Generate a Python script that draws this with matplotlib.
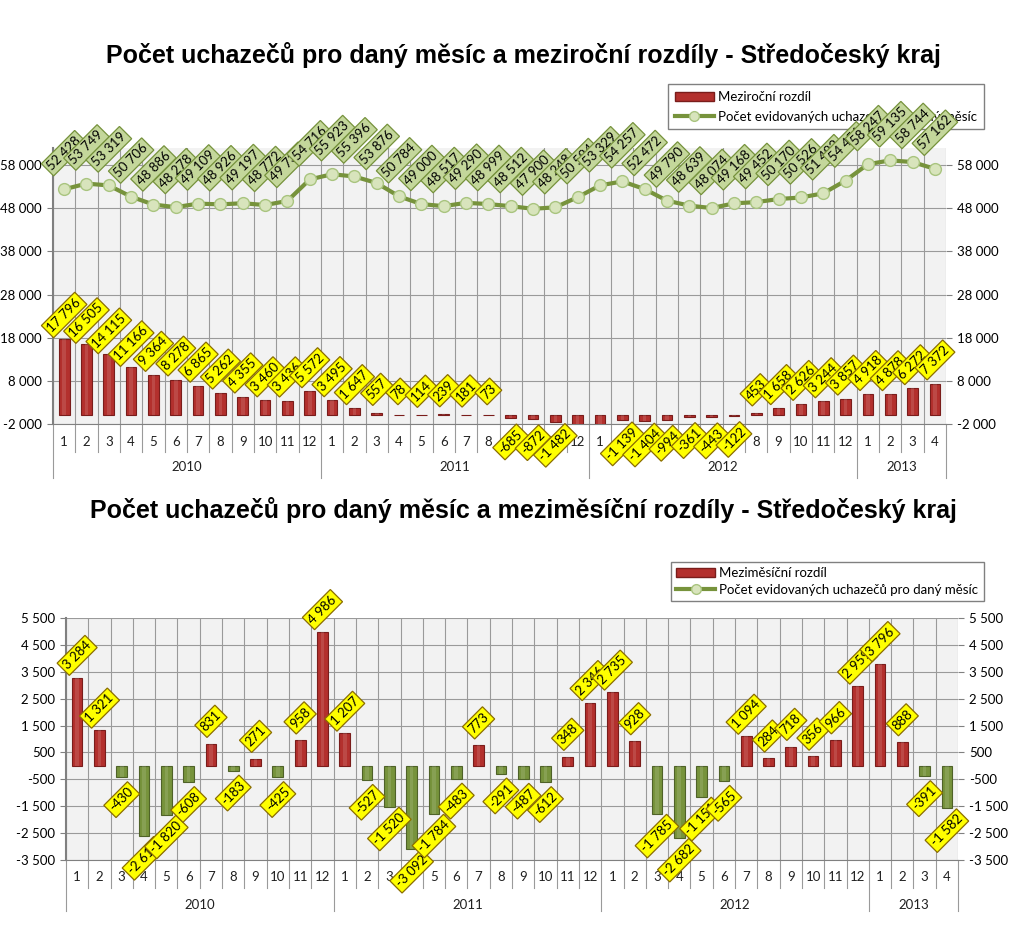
import numpy as np
import matplotlib.pyplot as plt
import matplotlib.transforms as mtransforms
from matplotlib.patches import Patch
from matplotlib.lines import Line2D

plt.rcParams['font.family'] = ['Lato', 'DejaVu Sans']

# Data (Jan 2010 - Apr 2013)
months = list(range(1, 13)) * 3 + [1, 2, 3, 4]
years = ["2010", "2011", "2012", "2013"]
year_lengths = [12, 12, 12, 4]

pocet = [52428, 53749, 53319, 50706, 48886, 48278, 49109, 48926, 49197, 48772, 49730, 54716,
         55923, 55396, 53876, 50784, 49000, 48517, 49290, 48999, 48512, 47900, 48248, 50594,
         53329, 54257, 52472, 49790, 48639, 48074, 49168, 49452, 50170, 50526, 51492, 54451,
         58247, 59135, 58744, 57162]
mezirocni = [17796, 16505, 14115, 11166, 9364, 8278, 6865, 5262, 4355, 3460, 3436, 5572,
             3495, 1647, 557, 78, 114, 239, 181, 73, -685, -872, -1482, -4122,
             -2594, -1139, -1404, -994, -361, -443, -122, 453, 1658, 2626, 3244, 3857,
             4918, 4878, 6272, 7372]
mezimesicni = [3284, 1321, -430, -2613, -1820, -608, 831, -183, 271, -425, 958, 4986,
               1207, -527, -1520, -3092, -1784, -483, 773, -291, -487, -612, 348, 2346,
               2735, 928, -1785, -2682, -1151, -565, 1094, 284, 718, 356, 966, 2959,
               3796, 888, -391, -1582]

top_ticks = [-2000, 8000, 18000, 28000, 38000, 48000, 58000]
bottom_ticks = [-3500, -2500, -1500, -500, 500, 1500, 2500, 3500, 4500, 5500]

RED = "#b3302d"
RED_EDGE = "#7a1d1b"
GREEN = "#77933c"
GREEN_EDGE = "#4f6228"
LINE = "#77933c"
YELLOW_BOX = dict(boxstyle="square,pad=0.2", fc="#ffff00", ec="#8a6d00", lw=0.9)
GREEN_BOX = dict(boxstyle="square,pad=0.2", fc="#c4d79b", ec="#76923c", lw=0.9)


def fmt(v):
    return f"{v:,}".replace(",", " ")


def style_axes(ax, ticks, ylim, month_y, year_y, sep_m, sep_y):
    n = len(months)
    ax.set_facecolor("#f2f2f2")
    ax.set_xlim(-0.5, n - 0.5)
    ax.set_ylim(*ylim)
    ax.set_yticks(ticks)
    ax.set_yticklabels([fmt(t) for t in ticks])
    ax.tick_params(axis="y", labelsize=9.5, labelright=True, right=True,
                   length=4, color="#808080", pad=4)
    ax.set_xticks(range(n))
    ax.set_xticklabels([])
    ax.tick_params(axis="x", length=0)
    ax.set_xticks(np.arange(-0.5, n, 1), minor=True)
    ax.tick_params(axis="x", which="minor", length=0)
    ax.grid(True, which="minor", axis="x", color="#9a9a9a", lw=0.8)
    ax.grid(True, which="major", axis="y", color="#9a9a9a", lw=0.8)
    ax.set_axisbelow(True)
    for s in ["top", "right"]:
        ax.spines[s].set_visible(False)
    ax.spines["left"].set_color("#808080")
    ax.spines["bottom"].set_color("#808080")
    ax.spines["left"].set_linewidth(1.5)

    trans = mtransforms.blended_transform_factory(ax.transData, ax.transAxes)
    for i, m in enumerate(months):
        ax.text(i, month_y, str(m), transform=trans, ha="center", va="center",
                fontsize=9.5, color="#202020")
    year_bounds = np.cumsum([0] + year_lengths) - 0.5
    for b in np.arange(-0.5, n, 1):
        length = sep_y if b in year_bounds else sep_m
        ax.plot([b, b], [0, length], transform=trans, color="#9a9a9a",
                lw=0.8, clip_on=False)
    for k, y in enumerate(years):
        center = (year_bounds[k] + year_bounds[k + 1]) / 2
        ax.text(center, year_y, y, transform=trans, ha="center", va="center",
                fontsize=9.5, color="#202020")


def draw_bars(ax, values, ymin, off, two_colors):
    x = np.arange(len(values))
    vals = np.array(values)
    colors = [RED if (v >= 0 or not two_colors) else GREEN for v in vals]
    edges = [RED_EDGE if (v >= 0 or not two_colors) else GREEN_EDGE for v in vals]
    ax.bar(x, vals, width=0.48, color=colors, edgecolor=edges, lw=0.8, zorder=3)
    # highlight stripe for a rounded look
    ax.bar(x, vals, width=0.16, color="white", alpha=0.12, lw=0, zorder=4)
    for i, v in enumerate(vals):
        if v < ymin:
            continue
        dy = off if v >= 0 else -off
        ax.annotate(fmt(int(v)), xy=(i, v), xytext=(0, dy), textcoords="offset points",
                    rotation=45, rotation_mode="anchor", ha="center", va="center",
                    fontsize=9.5, bbox=YELLOW_BOX, zorder=6, annotation_clip=False)


fig = plt.figure(figsize=(10.23, 9.47), dpi=100)

h_bar = Patch(facecolor=RED, edgecolor=RED_EDGE)
h_line = Line2D([], [], color=LINE, lw=3, marker="o", ms=7, mfc="#d8e4bc", mec="#a9c47f")

# ---------- top chart ----------
ax1 = fig.add_axes([0.0518, 0.5523, 0.873, 0.2914])
style_axes(ax1, top_ticks, (-2000, 62000), -0.065, -0.156, -0.10, -0.195)
draw_bars(ax1, mezirocni, -2000, 17, False)
ax1.plot(range(len(pocet)), pocet, color=LINE, lw=3, marker="o", ms=8.5,
         mfc="#d8e4bc", mec="#a9c47f", mew=1, zorder=5)
for i, v in enumerate(pocet):
    ax1.annotate(fmt(v), xy=(i, v), xytext=(0, 26), textcoords="offset points",
                 rotation=45, rotation_mode="anchor", ha="center", va="center",
                 fontsize=9.5, bbox=GREEN_BOX, zorder=7, annotation_clip=False)

fig.text(0.512, 0.942, "Počet uchazečů pro daný měsíc a meziroční rozdíly - Středočeský kraj",
         ha="center", va="center", fontsize=18, fontweight="bold",
         family="Liberation Sans")

leg1 = ax1.legend([h_bar, h_line], ["Meziroční rozdíl", "Počet evidovaných uchazečů pro daný měsíc"],
                  loc="upper right", bbox_to_anchor=(0.968, 0.918),
                  bbox_transform=fig.transFigure, fontsize=9.5,
                  frameon=True, fancybox=False, edgecolor="#808080", borderpad=0.5,
                  labelspacing=0.6, handlelength=3, handletextpad=0.3, framealpha=1)
leg1.set_zorder(5.5)

# ---------- bottom chart ----------
ax2 = fig.add_axes([0.0645, 0.0919, 0.872, 0.2555])
style_axes(ax2, bottom_ticks, (-3500, 5500), -0.07, -0.186, -0.115, -0.21)
draw_bars(ax2, mezimesicni, -3500, 16, True)

fig.text(0.512, 0.4615, "Počet uchazečů pro daný měsíc a meziměsíční rozdíly - Středočeský kraj",
         ha="center", va="center", fontsize=18, fontweight="bold",
         family="Liberation Sans")

ax2.legend([h_bar, h_line], ["Meziměsíční rozdíl", "Počet evidovaných uchazečů pro daný měsíc"],
           loc="upper right", bbox_to_anchor=(0.968, 0.414),
           bbox_transform=fig.transFigure, fontsize=9.5,
           frameon=True, fancybox=False, edgecolor="#808080", borderpad=0.4,
           labelspacing=0.4, handlelength=3, handletextpad=0.3, framealpha=1)

fig.savefig("out.png", dpi=100, facecolor="white")
